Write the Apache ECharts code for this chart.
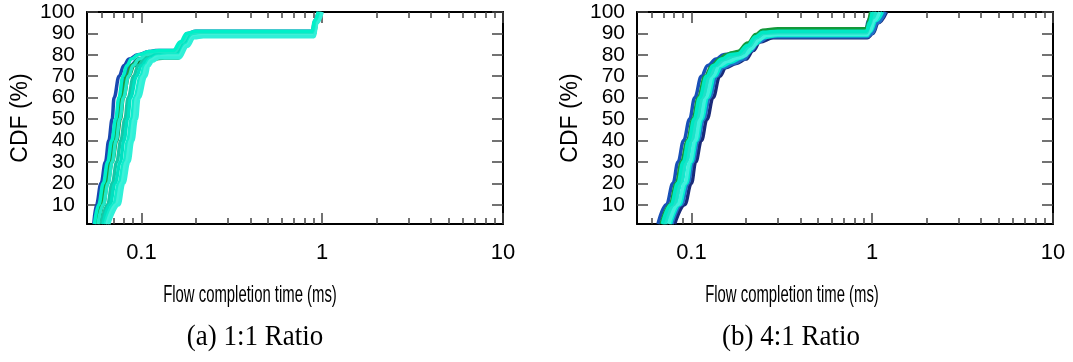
<!DOCTYPE html>
<html>
<head>
<meta charset="utf-8">
<script src="https://cdn.jsdelivr.net/npm/echarts@6/dist/echarts.min.js"></script>
<style>
  html, body { margin: 0; padding: 0; background: #fff; }
  #chart { width: 1073px; height: 362px; }
</style>
</head>
<body>
<div id="chart"></div>
<script>
// tick labels
const xLabels = [0.1, 1, 10];
const xMinorTicks = [0.06, 0.07, 0.08, 0.09, 0.2, 0.3, 0.4, 0.5, 0.6, 0.7, 0.8, 0.9, 2, 3, 4, 5, 6, 7, 8, 9];
const yLabels = [10, 20, 30, 40, 50, 60, 70, 80, 90, 100];

// (a) 1:1 ratio -- [flow completion time ms, CDF %]
const a1 = [[0.0545,1],[0.0564,10],[0.0598,20],[0.0632,30],[0.066,40],[0.0689,50],[0.0706,60],[0.0752,70],[0.08,75],[0.0855,78],[0.095,80],[0.11,81.5],[0.12,82],[0.152,82],[0.166,86],[0.18,90],[0.2,91],[0.88,91],[0.91,96],[0.95,100]];
const a2 = [[0.056,1],[0.059,10],[0.0625,20],[0.066,30],[0.0695,40],[0.0725,50],[0.076,60],[0.081,70],[0.087,75],[0.096,78],[0.11,79.5],[0.13,80],[0.158,80],[0.172,85],[0.188,89],[0.21,89.5],[0.89,89.5],[0.93,95],[0.97,100]];
const a3 = [[0.058,1],[0.0615,10],[0.065,20],[0.069,30],[0.073,40],[0.0765,50],[0.0795,60],[0.085,70],[0.091,75],[0.1,77],[0.115,78],[0.135,78.5],[0.16,78.5],[0.176,84],[0.192,88.5],[0.215,89],[0.9,89],[0.935,95],[0.98,100]];
const a4 = [[0.057,1],[0.06,10],[0.064,20],[0.068,30],[0.0715,40],[0.075,50],[0.078,60],[0.083,70],[0.088,75],[0.097,78],[0.112,80],[0.13,80.5],[0.155,80.5],[0.17,85],[0.187,89.5],[0.21,90],[0.89,90],[0.925,95],[0.965,100]];
const a5 = [[0.06,1],[0.065,10],[0.069,20],[0.073,30],[0.077,40],[0.081,50],[0.0845,60],[0.0905,70],[0.096,75],[0.104,78],[0.115,80],[0.13,81],[0.156,81],[0.172,86],[0.186,90],[0.21,90.5],[0.885,90.5],[0.92,95],[0.96,100]];
const a6 = [[0.0615,1],[0.067,10],[0.0715,20],[0.0765,30],[0.08,40],[0.084,50],[0.087,60],[0.094,70],[0.1,75],[0.108,78],[0.118,80],[0.13,80.5],[0.158,80.5],[0.174,85],[0.19,89.5],[0.21,90],[0.89,90],[0.925,95],[0.97,100]];
const a7 = [[0.063,1],[0.07,10],[0.075,20],[0.08,30],[0.084,40],[0.088,50],[0.0915,60],[0.099,70],[0.104,75],[0.112,78],[0.122,79.5],[0.135,80],[0.16,80],[0.177,85],[0.192,89],[0.215,89.5],[0.895,89.5],[0.93,95],[0.975,100]];
const a8 = [[0.066,1],[0.075,10],[0.0799,20],[0.0852,30],[0.0896,40],[0.0938,50],[0.097,60],[0.1058,70],[0.11,75],[0.115,77],[0.125,78.5],[0.162,78.5],[0.18,84],[0.196,88],[0.22,88.5],[0.9,88.5],[0.94,95],[1.0,100]];
const a9 = [[0.055,1],[0.058,10],[0.0615,20],[0.065,30],[0.0685,40],[0.072,50],[0.075,60],[0.079,70],[0.083,75],[0.088,78],[0.096,80],[0.11,81.5],[0.125,82],[0.15,82],[0.164,86],[0.178,90],[0.2,91],[0.88,91],[0.905,96],[0.95,100]];
const a10 = [[0.0575,1],[0.0615,10],[0.0655,20],[0.069,30],[0.0725,40],[0.076,50],[0.0795,60],[0.085,70],[0.09,75],[0.097,78],[0.106,80],[0.12,81.5],[0.153,81.5],[0.168,86],[0.183,90],[0.205,90.5],[0.885,90.5],[0.915,96],[0.955,100]];
const a11 = [[0.0645,1],[0.0725,10],[0.0775,20],[0.0825,30],[0.087,40],[0.091,50],[0.094,60],[0.102,70],[0.107,75],[0.113,77.5],[0.122,79],[0.14,79.5],[0.161,79.5],[0.178,84.5],[0.194,88.5],[0.218,89],[0.9,89],[0.935,95],[0.985,100]];

// (b) 4:1 ratio
const b1 = [[0.0653,1],[0.0727,10],[0.0791,20],[0.0843,30],[0.0906,40],[0.0978,50],[0.1043,60],[0.1136,70],[0.123,75],[0.137,78],[0.15,80],[0.165,80.5],[0.18,81],[0.206,85],[0.229,89],[0.25,90.5],[0.3,91],[0.925,91],[0.95,96],[0.99,100]];
const b2 = [[0.0808,1],[0.0918,10],[0.1,20],[0.1056,30],[0.1136,40],[0.122,50],[0.1317,60],[0.1434,70],[0.155,74],[0.177,76],[0.2,78],[0.22,82],[0.239,86],[0.283,88],[0.94,88],[1.01,90],[1.08,95],[1.2,100]];
const b3 = [[0.078,1],[0.088,10],[0.096,20],[0.102,30],[0.109,40],[0.117,50],[0.126,60],[0.138,70],[0.15,74],[0.172,76],[0.195,78],[0.215,82],[0.235,86],[0.27,88.5],[0.94,88.5],[1.0,90],[1.07,95],[1.18,100]];
const b4 = [[0.068,1],[0.076,10],[0.0825,20],[0.088,30],[0.095,40],[0.102,50],[0.109,60],[0.119,70],[0.13,75],[0.143,78],[0.155,80],[0.168,81],[0.18,81.5],[0.205,85.5],[0.227,89.5],[0.247,91.5],[0.3,92.2],[0.92,92.2],[0.98,100]];
const b5 = [[0.07,1],[0.079,10],[0.0855,20],[0.091,30],[0.098,40],[0.105,50],[0.113,60],[0.124,70],[0.135,75],[0.15,78],[0.165,79.5],[0.18,80],[0.205,84],[0.225,88],[0.245,90],[0.3,90.5],[0.93,90.5],[0.96,95],[1.02,100]];
const b6 = [[0.072,1],[0.081,10],[0.088,20],[0.094,30],[0.101,40],[0.108,50],[0.116,60],[0.127,70],[0.138,75],[0.155,77.5],[0.172,79],[0.19,80],[0.21,83.5],[0.232,87.5],[0.255,89.5],[0.3,90],[0.93,90],[0.96,92],[1.0,96],[1.06,100]];
const b7 = [[0.075,1],[0.084,10],[0.092,20],[0.098,30],[0.105,40],[0.112,50],[0.12,60],[0.132,70],[0.143,75],[0.16,77],[0.18,78.5],[0.197,79.5],[0.215,83],[0.237,87],[0.26,89],[0.3,89.5],[0.935,89.5],[0.97,91],[1.03,96],[1.1,100]];
const b8 = [[0.069,1],[0.077,10],[0.084,20],[0.09,30],[0.0965,40],[0.1035,50],[0.111,60],[0.121,70],[0.132,75],[0.147,78],[0.163,80],[0.18,80.5],[0.205,84.5],[0.226,88.5],[0.248,90.5],[0.3,91],[0.925,91],[1.0,100]];
const b9 = [[0.0705,1],[0.0795,10],[0.0865,20],[0.092,30],[0.0995,40],[0.1065,50],[0.1145,60],[0.1255,70],[0.1365,75],[0.152,77.8],[0.17,79.5],[0.185,80.2],[0.208,84],[0.23,88],[0.25,90],[0.3,90.3],[0.93,90.3],[0.965,94],[1.01,98],[1.04,100]];
const b10 = [[0.0765,1],[0.086,10],[0.094,20],[0.1,30],[0.107,40],[0.1145,50],[0.123,60],[0.135,70],[0.147,74.5],[0.166,76.5],[0.188,78.5],[0.206,81],[0.226,85],[0.25,88],[0.3,89],[0.937,89],[0.98,91],[1.05,96],[1.14,100]];

const curvesA = [[a1,'#1a48b0'],[a2,'#2068d0'],[a3,'#0e7a2a'],[a4,'#18a040'],[a5,'#12c8a8'],[a6,'#00e0c0'],[a7,'#10eccc'],[a11,'#40f0d8'],[a8,'#30f0d8'],[a10,'#20e8c8'],[a9,'#00f0c8']];
const curvesB = [[b2,'#1a2a78'],[b1,'#1850b8'],[b3,'#2070c8'],[b4,'#13993a'],[b5,'#00d8bc'],[b10,'#00ecd0'],[b6,'#10ecd0'],[b7,'#40f0dc'],[b9,'#20e0c8'],[b8,'#00e8c4']];

const FONT = "'Liberation Sans', Arial, sans-serif";
const SERIF = "'Liberation Serif', 'Times New Roman', serif";
const chart = echarts.init(document.getElementById("chart"), null, { renderer: "canvas" });

const grids = [
  { left: 87, top: 12, width: 416, height: 212 },
  { left: 637, top: 12, width: 416, height: 212 },
];

function xAxes(g) {
  const base = { type: "log", logBase: 10, gridIndex: g, min: 0.05, max: 10, splitLine: { show: false } };
  const line = { show: true, lineStyle: { color: "#000", width: 2 } };
  return [
    { ...base, position: "bottom", axisLine: line,
      axisTick: { inside: true, length: 11, customValues: xLabels, lineStyle: { color: "#444", width: 1.5 } },
      axisLabel: { customValues: xLabels, margin: 18, fontSize: 22, color: "#000", fontFamily: FONT,
        showMinLabel: true, showMaxLabel: true } },
    { ...base, position: "bottom", axisLine: { show: false },
      axisTick: { inside: true, length: 6, customValues: xMinorTicks, lineStyle: { color: "#444", width: 1.5 } },
      axisLabel: { show: false } },
    { ...base, position: "top", axisLine: line,
      axisTick: { inside: true, length: 11, customValues: xLabels, lineStyle: { color: "#444", width: 1.5 } },
      axisLabel: { show: false } },
    { ...base, position: "top", axisLine: { show: false },
      axisTick: { inside: true, length: 6, customValues: xMinorTicks, lineStyle: { color: "#444", width: 1.5 } },
      axisLabel: { show: false } },
  ];
}

function yAxes(g) {
  const base = { type: "value", gridIndex: g, min: 1, max: 100, splitLine: { show: false },
    axisLine: { show: true, lineStyle: { color: "#000", width: 2 } } };
  return [
    { ...base, position: "left",
      axisTick: { inside: true, length: 11, customValues: yLabels, lineStyle: { color: "#444", width: 1.5 } },
      axisLabel: { customValues: yLabels, margin: 12, fontSize: 21, lineHeight: 18, color: "#000", fontFamily: FONT,
        interval: 0, showMinLabel: true, showMaxLabel: true, hideOverlap: false } },
    { ...base, position: "right",
      axisTick: { inside: true, length: 11, customValues: yLabels, lineStyle: { color: "#444", width: 1.5 } },
      axisLabel: { show: false } },
  ];
}

function makeSeries(curves, g) {
  return curves.map(([pts, color], i) => ({
    type: "line",
    name: (g === 0 ? "a" : "b") + (i + 1),
    xAxisIndex: g * 4,
    yAxisIndex: g * 2,
    data: pts,
    smooth: 0.4,
    smoothMonotone: "x",
    showSymbol: false,
    clip: true,
    lineStyle: { color: color, width: 3.5 },
    silent: true,
  }));
}

function textEl(txt, x, y, size, family, rotation, sx) {
  return {
    type: "text",
    x: x, y: y,
    rotation: rotation || 0,
    scaleX: sx || 1,
    style: { text: txt, fill: "#000", font: size + "px " + family, align: "center", verticalAlign: "middle" },
  };
}

const option = {
  animation: false,
  grid: grids,
  xAxis: [...xAxes(0), ...xAxes(1)],
  yAxis: [...yAxes(0), ...yAxes(1)],
  series: [...makeSeries(curvesA, 0), ...makeSeries(curvesB, 1)],
  graphic: [
    textEl("CDF (%)", 21, 118, 23, FONT, Math.PI / 2),
    textEl("CDF (%)", 571, 118, 23, FONT, Math.PI / 2),
    textEl("Flow completion time (ms)", 250, 295, 24, FONT, 0, 0.62),
    textEl("Flow completion time (ms)", 792, 295, 24, FONT, 0, 0.62),
    textEl("(a) 1:1 Ratio", 255, 337, 29, SERIF, 0, 0.93),
    textEl("(b) 4:1 Ratio", 791, 337, 29, SERIF, 0, 0.93),
  ],
};

chart.setOption(option);
</script>
</body>
</html>
